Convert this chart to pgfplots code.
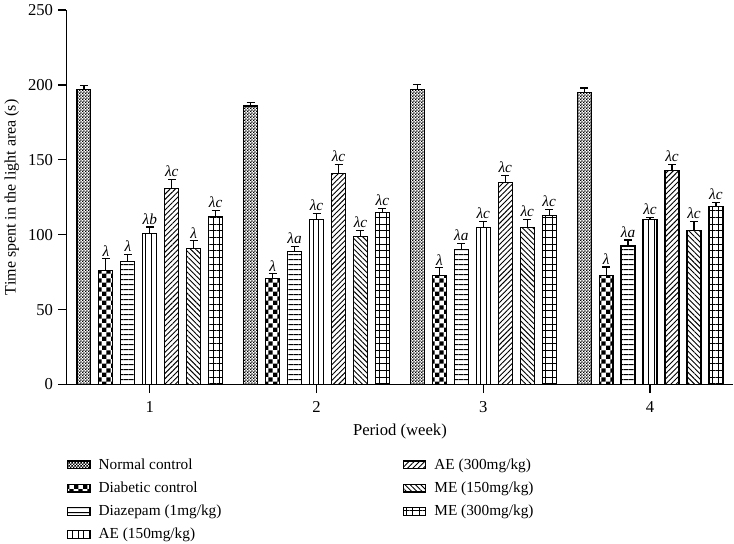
\documentclass[border=0pt]{standalone}
\usepackage{fontspec}
\setmainfont{Liberation Serif}
\usepackage{pgfplots}
\pgfplotsset{compat=1.18}
\usetikzlibrary{patterns,patterns.meta}
\pgfdeclarepatternformonly{finecheck}{\pgfpointorigin}{\pgfqpoint{2.4pt}{2.4pt}}{\pgfqpoint{2.4pt}{2.4pt}}{%
  \pgfpathrectangle{\pgfpointorigin}{\pgfqpoint{1.35pt}{1.35pt}}%
  \pgfpathrectangle{\pgfqpoint{1.2pt}{1.2pt}}{\pgfqpoint{1.35pt}{1.35pt}}%
  \pgfusepath{fill}}
\pgfdeclarepatternformonly{bigcheck}{\pgfpointorigin}{\pgfqpoint{7pt}{7pt}}{\pgfqpoint{7pt}{7pt}}{%
  \pgfpathrectangle{\pgfpointorigin}{\pgfqpoint{3.5pt}{3.5pt}}%
  \pgfpathrectangle{\pgfqpoint{3.5pt}{3.5pt}}{\pgfqpoint{3.5pt}{3.5pt}}%
  \pgfusepath{fill}}
\tikzset{
  pNormal/.style={pattern=finecheck},
  pDiab/.style={pattern=bigcheck},
  pDiaz/.style={pattern={Lines[angle=0,distance=4pt,line width=0.7pt]}},
  pAEa/.style={pattern={Lines[angle=90,distance=4.2pt,line width=0.7pt]}},
  pAEb/.style={pattern={Lines[angle=45,distance=2.8pt,line width=0.7pt]}},
  pMEa/.style={pattern={Lines[angle=-45,distance=2.8pt,line width=0.7pt]}},
  pMEb/.style={pattern={Hatch[angle=0,distance=5pt,line width=0.7pt]}},
  bar/.style={draw=black, line width=0.9pt, fill=white, pattern color=black},
}
\begin{document}
\begin{tikzpicture}[font=\fontsize{11.5}{13}\selectfont]
\begin{axis}[
  width=501pt, height=281.25pt, scale only axis,
  xmin=0.5, xmax=4.5, ymin=0, ymax=250,
  axis x line=bottom, axis y line=left,
  axis line style={-, line width=0.9pt},
  xtick={1,2,3,4}, ytick={0,50,100,150,200,250},
  tick align=outside, major tick length=6.5pt,
  tick style={line width=0.9pt, black},
  /pgf/number format/assume math mode=true,
  tick label style={font=\fontsize{12.5}{14}\selectfont},
  xticklabel style={yshift=-3pt},
  xlabel={Period (week)},
  ylabel={Time spent in the light area (s)},
  xlabel style={yshift=-1pt, font=\fontsize{12.5}{14}\selectfont},
  ylabel style={font=\fontsize{12}{14}\selectfont},
  ybar, bar width=10.5pt,
  error bars/y dir=plus, error bars/y explicit,
  error bars/error bar style={line width=0.9pt, black},
  error bars/error mark options={rotate=90, mark size=3pt, line width=0.9pt, black},
  visualization depends on={\thisrow{e} \as \myerr},
  nodes near coords style={anchor=south, black, yshift={\myerr*1.125pt}, font=\fontsize{11.5}{13}\selectfont\itshape, inner sep=1.5pt},
  legend columns=2,
  legend cell align=left,
  legend style={at={(0,-0.19)}, anchor=north west, draw=none, inner xsep=0pt, inner ysep=0pt,
    font=\fontsize{11.5}{13}\selectfont,
    row sep=4pt, /tikz/column 2/.style={column sep=134pt},
    /tikz/every odd column/.append style={column sep=4pt}},
]
\addplot[bar, pNormal, bar shift=-49.5pt, forget plot, error bars/.cd, y dir=plus, y explicit] table[x=x, y=y, y error=e] {
x y e
1 197 2.5
2 186 2.5
3 197 3.5
4 195 3
};
\addplot[bar, pDiab, bar shift=-33pt, forget plot, nodes near coords, point meta=explicit symbolic, error bars/.cd, y dir=plus, y explicit] table[x=x, y=y, y error=e, meta=lab] {
x y e lab
1 76 8 λ
2 71 3 λ
3 72.5 5.5 λ
4 72.5 6 λ
};
\addplot[bar, pDiaz, bar shift=-16.5pt, forget plot, nodes near coords, point meta=explicit symbolic, error bars/.cd, y dir=plus, y explicit] table[x=x, y=y, y error=e, meta=lab] {
x y e lab
1 82 5 λ
2 89 3 λa
3 90 4 λa
4 92.5 4 λa
};
\addplot[bar, pAEa, bar shift=0pt, forget plot, nodes near coords, point meta=explicit symbolic, error bars/.cd, y dir=plus, y explicit] table[x=x, y=y, y error=e, meta=lab] {
x y e lab
1 100.7 4.5 λb
2 110 4 λc
3 105 4 λc
4 110 1.5 λc
};
\addplot[bar, pAEb, bar shift=16.5pt, forget plot, nodes near coords, point meta=explicit symbolic, error bars/.cd, y dir=plus, y explicit] table[x=x, y=y, y error=e, meta=lab] {
x y e lab
1 131 6 λc
2 141 6 λc
3 135 4.5 λc
4 143 4 λc
};
\addplot[bar, pMEa, bar shift=33pt, forget plot, nodes near coords, point meta=explicit symbolic, error bars/.cd, y dir=plus, y explicit] table[x=x, y=y, y error=e, meta=lab] {
x y e lab
1 91 5 λ
2 99 4 λc
3 105 5 λc
4 103 6 λc
};
\addplot[bar, pMEb, bar shift=49.5pt, forget plot, nodes near coords, point meta=explicit symbolic, error bars/.cd, y dir=plus, y explicit] table[x=x, y=y, y error=e, meta=lab] {
x y e lab
1 112 4 λc
2 115 2.5 λc
3 113 4 λc
4 119 2.5 λc
};
\addlegendimage{area legend, bar, pNormal}
\addlegendentry{Normal control}
\addlegendimage{area legend, bar, pAEb}
\addlegendentry{AE (300mg/kg)}
\addlegendimage{area legend, bar, pDiab}
\addlegendentry{Diabetic control}
\addlegendimage{area legend, bar, pMEa}
\addlegendentry{ME (150mg/kg)}
\addlegendimage{area legend, bar, pDiaz}
\addlegendentry{Diazepam (1mg/kg)}
\addlegendimage{area legend, bar, pMEb}
\addlegendentry{ME (300mg/kg)}
\addlegendimage{area legend, bar, pAEa}
\addlegendentry{AE (150mg/kg)}
\end{axis}
\end{tikzpicture}
\end{document}
